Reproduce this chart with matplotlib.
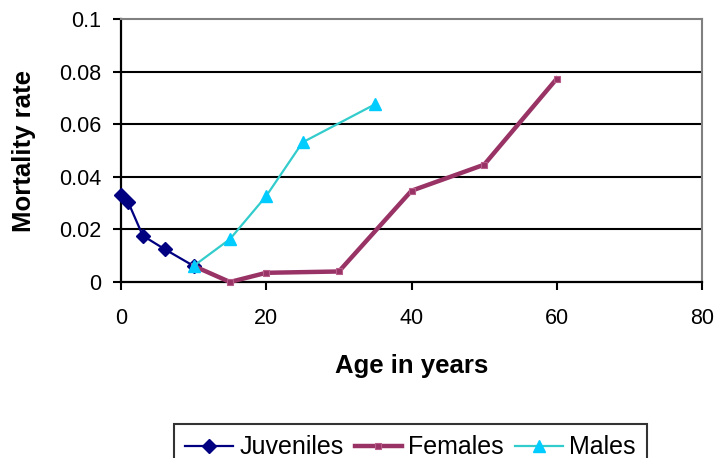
import matplotlib
matplotlib.use("Agg")
import matplotlib.pyplot as plt

plt.rcParams['font.family'] = ['Liberation Sans', 'DejaVu Sans']

# Mortality rate by age for three groups
juv_age = [0, 1, 3, 6, 10]
juv_rate = [0.033, 0.0303, 0.0176, 0.0125, 0.0061]

fem_age = [10, 15, 20, 30, 40, 50, 60]
fem_rate = [0.0061, 0.0, 0.0035, 0.004, 0.0347, 0.0446, 0.0773]

male_age = [10, 15, 20, 25, 35]
male_rate = [0.0061, 0.0163, 0.0327, 0.0531, 0.0676]

x_ticks = [0, 20, 40, 60, 80]
y_ticks = [0, 0.02, 0.04, 0.06, 0.08, 0.1]
y_tick_labels = ['0', '0.02', '0.04', '0.06', '0.08', '0.1']

fig = plt.figure(figsize=(7.17, 4.58), dpi=100)
ax = fig.add_axes([121/717, 1 - 282/458, 581/717, 263/458])

for y in y_ticks[1:-1]:
    ax.axhline(y, color='black', lw=1.5, zorder=1)

ax.plot(juv_age, juv_rate, color='#000080', lw=1.6, marker='D', ms=7,
        mfc='#000080', mec='#000080', label='Juveniles', zorder=3, clip_on=False)
ax.plot(fem_age, fem_rate, color='#993366', lw=3.2, marker='s', ms=4.5,
        mfc='#993366', mec='#b85c8a', mew=0.8, label='Females', zorder=4, clip_on=False)
ax.plot(male_age, male_rate, color='#33CCCC', lw=1.6, marker='^', ms=9,
        mfc='#00CCFF', mec='#00CCFF', label='Males', zorder=5, clip_on=False)

ax.set_xlim(0, 80)
ax.set_ylim(0, 0.1)
ax.set_xticks(x_ticks)
ax.set_yticks(y_ticks)
ax.set_yticklabels(y_tick_labels)

for side in ('top', 'right'):
    ax.spines[side].set_color('#808080')
    ax.spines[side].set_linewidth(1.5)
for side in ('left', 'bottom'):
    ax.spines[side].set_color('black')
    ax.spines[side].set_linewidth(1.6)

ax.tick_params(axis='y', direction='out', length=6, width=1.5, labelsize=15.5, pad=8)
ax.tick_params(axis='x', direction='out', length=6, width=1.5, labelsize=15.5, pad=13)

ax.set_xlabel('Age in years', fontsize=18.5, fontweight='bold', labelpad=18)
ax.set_ylabel('Mortality rate', fontsize=18.5, fontweight='bold', labelpad=17)

leg = fig.legend(loc='upper center', bbox_to_anchor=(410.5/717, 1 - 424/458),
                 ncol=3, fontsize=18, frameon=True, fancybox=False,
                 handlelength=1.9, handletextpad=0.25, columnspacing=0.45,
                 borderpad=0.45, borderaxespad=0)
leg.get_frame().set_edgecolor('black')
leg.get_frame().set_linewidth(1.5)

fig.savefig('out.png', dpi=100)
